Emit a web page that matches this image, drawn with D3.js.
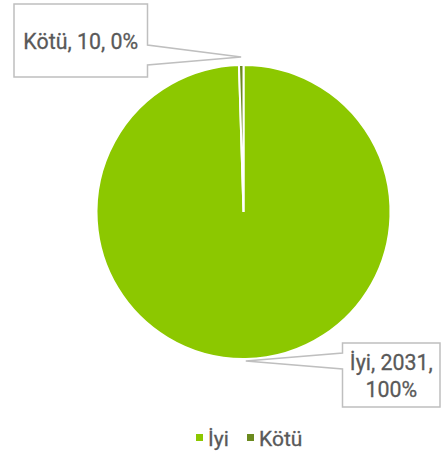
<!DOCTYPE html>
<html>
<head>
<meta charset="utf-8">
<script src="https://cdn.jsdelivr.net/npm/d3@7"></script>
<style>
  body { margin: 0; background: #fff; }
  svg text { font-family: Roboto, "DejaVu Sans", sans-serif; fill: #595959; stroke: #595959; stroke-width: 0.3px; }
</style>
</head>
<body>
<div id="chart"></div>
<script>
// data
var categories = ["İyi", "Kötü"];
var values = [2031, 10];
var percents = ["100%", "0%"];
var colours = ["#8cc800", "#6b8a1e"];

var width = 441, height = 454;
var cx = 243.5, cy = 212, radius = 147;
var squeeze = 0.93; // condensed look of the original font

var svg = d3.select("#chart")
            .append("svg")
            .attr("width", width)
            .attr("height", height);

var data = categories.map(function(c, i) {
    return {name: c, value: values[i], pct: percents[i], colour: colours[i]};
});

var pie = d3.pie()
            .sort(null)
            .value(function(d) { return d.value; });

var arc = d3.arc().innerRadius(0).outerRadius(radius);

var arcs = pie(data);

// slices
var g = svg.append("g")
           .attr("transform", "translate(" + cx + "," + cy + ")");

g.selectAll(".slice")
    .data(arcs)
    .enter().append("path")
    .attr("class", "slice")
    .attr("d", arc)
    .style("fill", function(d) { return d.data.colour; })
    .style("stroke", "#fff")
    .style("stroke-width", 2);

// callout boxes with a pointer tail toward the slice
// box: [x0, y0, x1, y1], tail side, tail span on that side
var callouts = [
    {i: 1, box: [14, 4, 147.5, 77], side: "right", t0: 45, t1: 65, rOff: 8},
    {i: 0, box: [342.5, 343, 440, 407], side: "left", t0: 353, t1: 369, rOff: 2}
];
callouts[0].lines = [data[1].name + ", " + data[1].value + ", " + data[1].pct];
callouts[1].lines = [data[0].name + ", " + data[0].value + ",", data[0].pct];

callouts.forEach(function(c) {
    var a = arcs[c.i];
    var mid = (a.startAngle + a.endAngle) / 2;
    // tip sits just outside the slice edge
    var r = radius + c.rOff;
    var tipX = cx + Math.sin(mid) * r;
    var tipY = cy - Math.cos(mid) * r;
    var b = c.box, pts;
    if (c.side == "right") {
        pts = [[b[0], b[1]], [b[2], b[1]], [b[2], c.t0], [tipX, tipY], [b[2], c.t1], [b[2], b[3]], [b[0], b[3]]];
    } else {
        pts = [[b[0], b[1]], [b[2], b[1]], [b[2], b[3]], [b[0], b[3]], [b[0], c.t1], [tipX, tipY], [b[0], c.t0]];
    }
    svg.append("path")
        .attr("d", d3.line()(pts) + "Z")
        .style("fill", "#fff")
        .style("stroke", "#bfbfbf")
        .style("stroke-width", 1.5);

    var mx = (b[0] + b[2]) / 2, my = (b[1] + b[3]) / 2;
    var lh = 27;
    svg.selectAll(null)
        .data(c.lines)
        .enter().append("text")
        .attr("transform", function(d, k) {
            var y = my + (k - (c.lines.length - 1) / 2) * lh;
            return "translate(" + mx + "," + y + ") scale(" + squeeze + ",1)";
        })
        .attr("dy", "0.36em")
        .attr("text-anchor", "middle")
        .style("font-size", "23px")
        .text(function(d) { return d; });
});

// legend
var legendX = [196, 247];
var legend = svg.selectAll(".legend")
                .data(data)
                .enter().append("g")
                .attr("class", "legend")
                .attr("transform", function(d, i) { return "translate(" + legendX[i] + ",434)"; });

legend.append("rect")
    .attr("width", 7)
    .attr("height", 7)
    .style("fill", function(d) { return d.colour; });

legend.append("text")
    .attr("transform", "translate(12,12)")
    .style("font-size", "21px")
    .text(function(d) { return d.name; });
</script>
</body>
</html>
